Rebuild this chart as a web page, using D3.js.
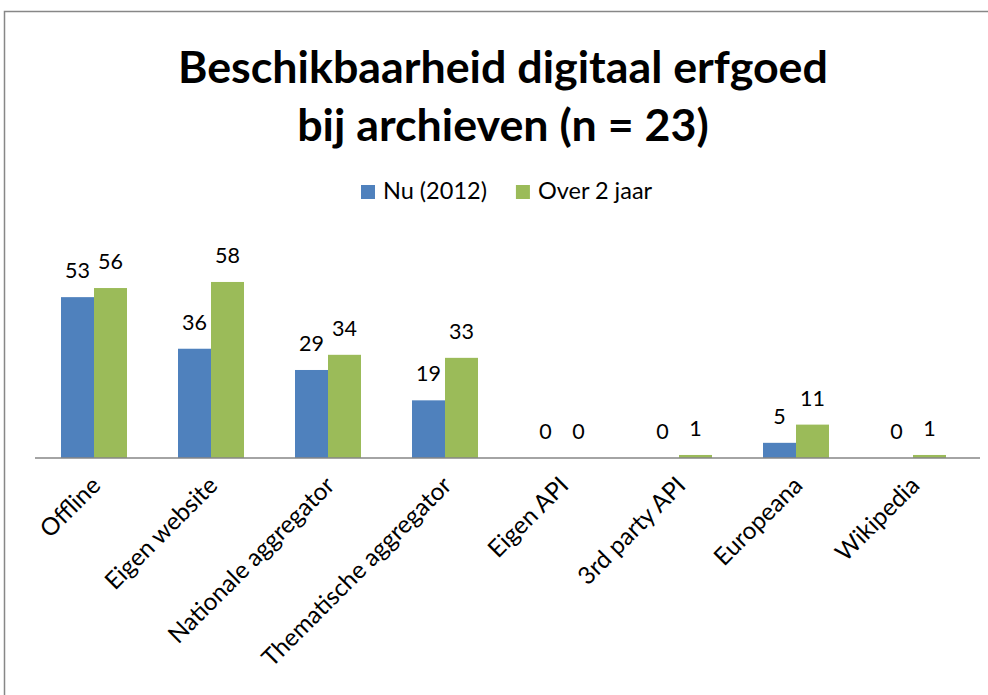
<!DOCTYPE html>
<html>
<head>
<meta charset="utf-8">
<script src="https://cdn.jsdelivr.net/npm/d3@7/dist/d3.min.js"></script>
<style>
  body { margin: 0; background: #fff; }
  svg text { font-family: Lato, "Open Sans", sans-serif; fill: #000; }
</style>
</head>
<body>
<svg id="chart" width="988" height="695"></svg>
<script>
var categories = ["Offline", "Eigen website", "Nationale aggregator", "Thematische aggregator",
                  "Eigen API", "3rd party API", "Europeana", "Wikipedia"];
var seriesNames = ["Nu (2012)", "Over 2 jaar"];
var nu2012 = [53, 36, 29, 19, 0, 0, 5, 0];
var over2jaar = [56, 58, 34, 33, 0, 1, 11, 1];
var titleLines = ["Beschikbaarheid digitaal erfgoed", "bij archieven (n = 23)"];
var colors = ["#4F81BD", "#9BBB59"];

var svg = d3.select("#chart");

// chart frame (runs off the right and bottom edge like the screenshot)
svg.append("rect")
    .attr("x", 4.5).attr("y", 11.5)
    .attr("width", 1000).attr("height", 700)
    .attr("fill", "none").attr("stroke", "#878787").attr("stroke-width", 1.5);

// title, sized so the first line is as wide as the original
var title = svg.append("g");
title.selectAll("text").data(titleLines)
    .enter().append("text")
    .attr("x", 503)
    .attr("y", function(d, i) { return 83 + i * 58; })
    .attr("text-anchor", "middle")
    .attr("font-weight", "bold")
    .attr("font-size", 40)
    .text(function(d) { return d; });
var w0 = title.select("text").node().getComputedTextLength();
title.selectAll("text").attr("font-size", 40 * 650 / w0);

// scales
var axisY = 458, pxPerUnit = 3.035;
var x0 = d3.scaleBand().domain(categories).range([35.5, 971.5])
    .paddingInner(51 / 117).paddingOuter(51 / 234);
var x1 = d3.scaleBand().domain(seriesNames).range([0, x0.bandwidth()]);
var y = d3.scaleLinear().domain([0, 70]).range([axisY, axisY - 70 * pxPerUnit]);

var rows = categories.map(function(c, i) {
    return {cat: c, vals: [
        {s: seriesNames[0], v: nu2012[i], c: colors[0]},
        {s: seriesNames[1], v: over2jaar[i], c: colors[1]}
    ]};
});

var groups = svg.selectAll("g.cat").data(rows)
    .enter().append("g").attr("class", "cat")
    .attr("transform", function(d) { return "translate(" + x0(d.cat) + ",0)"; });

groups.selectAll("rect").data(function(d) { return d.vals; })
    .enter().append("rect")
    .attr("x", function(d) { return x1(d.s); })
    .attr("y", function(d) { return y(d.v); })
    .attr("width", x1.bandwidth())
    .attr("height", function(d) { return y(0) - y(d.v); })
    .attr("fill", function(d) { return d.c; });

groups.selectAll("text").data(function(d) { return d.vals; })
    .enter().append("text")
    .attr("x", function(d) { return x1(d.s) + x1.bandwidth() / 2; })
    .attr("y", function(d) { return y(d.v) - 19; })
    .attr("text-anchor", "middle")
    .attr("font-size", 21.5)
    .text(function(d) { return d.v; });

// category axis
var xAxis = svg.append("g")
    .attr("transform", "translate(0," + axisY + ")")
    .call(d3.axisBottom(x0).tickSize(0).tickPadding(0));
xAxis.select(".domain").remove();
xAxis.append("line")
    .attr("x1", 35).attr("x2", 980)
    .attr("stroke", "#868686").attr("stroke-width", 1.5);
xAxis.selectAll(".tick text")
    .attr("font-size", 21)
    .attr("font-family", "Lato, sans-serif")
    .attr("fill", "#000")
    .attr("text-anchor", "end")
    .attr("dy", 0)
    .attr("transform", "translate(8,29) rotate(-45)");
var longest = d3.max(xAxis.selectAll(".tick text").nodes(), function(n) { return n.getComputedTextLength(); });
xAxis.selectAll(".tick text").attr("font-size", 21 * 256 / longest);

// legend
var legend = svg.append("g");
var lx = 361, legendSize = 20;
var probe = legend.append("text").attr("font-size", 20).text(seriesNames[0]);
legendSize = 20 * 104 / probe.node().getComputedTextLength();
probe.remove();
seriesNames.forEach(function(s, i) {
    legend.append("rect")
        .attr("x", lx).attr("y", 185)
        .attr("width", 14).attr("height", 14)
        .attr("fill", colors[i]);
    var t = legend.append("text")
        .attr("x", lx + 22).attr("y", 199)
        .attr("font-size", legendSize)
        .text(s);
    lx += 22 + t.node().getComputedTextLength() + 29;
});
</script>
</body>
</html>
